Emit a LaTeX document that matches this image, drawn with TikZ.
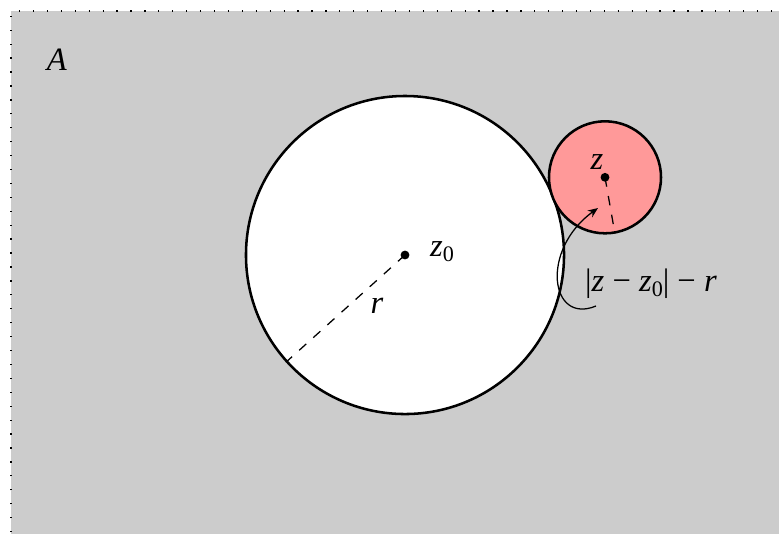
\documentclass[tikz,border=0pt]{standalone}
\usepackage{fontspec}
\setmainfont{Liberation Serif}
\usetikzlibrary{arrows.meta}
\newcommand{\lowsub}[1]{\raisebox{-1.6pt}{\fontsize{7}{8}\selectfont #1}}
\begin{document}
\begin{tikzpicture}[x=0.316pt,y=-0.316pt,
  disc/.style={draw, circle, line width=0.8pt, inner sep=0pt},
  radline/.style={dashed, line width=0.4pt},
  lbl/.style={inner sep=1pt, font=\fontsize{10.3}{12}\selectfont}]
\useasboundingbox (0,0) rectangle (779,533);
\clip (0,0) rectangle (779,533);
\fill[gray!40] (11,11) rectangle (800,560);
\draw[loosely dotted, line width=0.4pt] (11,560) -- (11,11) -- (800,11);
\node[disc, fill=white, minimum size=100.5pt] (big) at (405,255) {};
\node[disc, fill=red!40, minimum size=35.4pt] (small) at (605,177.3) {};
\draw[radline] (big.center) -- (big.222);
\draw[radline] (small.center) -- (small.-80);
\fill (big.center) circle (1.4pt);
\fill (small.center) circle (1.4pt);
\node[lbl] (A) at (57,60) {\textit{A}};
\node[lbl] (z0) at (442,252) {\textit{z}\lowsub{0}};
\node[lbl] (r) at (377,306) {\textit{r}};
\node[lbl] (z) at (597,162) {\textit{z}};
\node[lbl] (d) at (651,284) {|\textit{z} − \textit{z}\lowsub{0}| − \textit{r}};
\coordinate (s) at (596,306);
\coordinate (t) at (598,208);
\draw[-{Stealth[length=3.2pt,width=2.6pt]}, line width=0.4pt] (s) .. controls (550,325) and (540,250) .. (t);
\end{tikzpicture}
\end{document}
